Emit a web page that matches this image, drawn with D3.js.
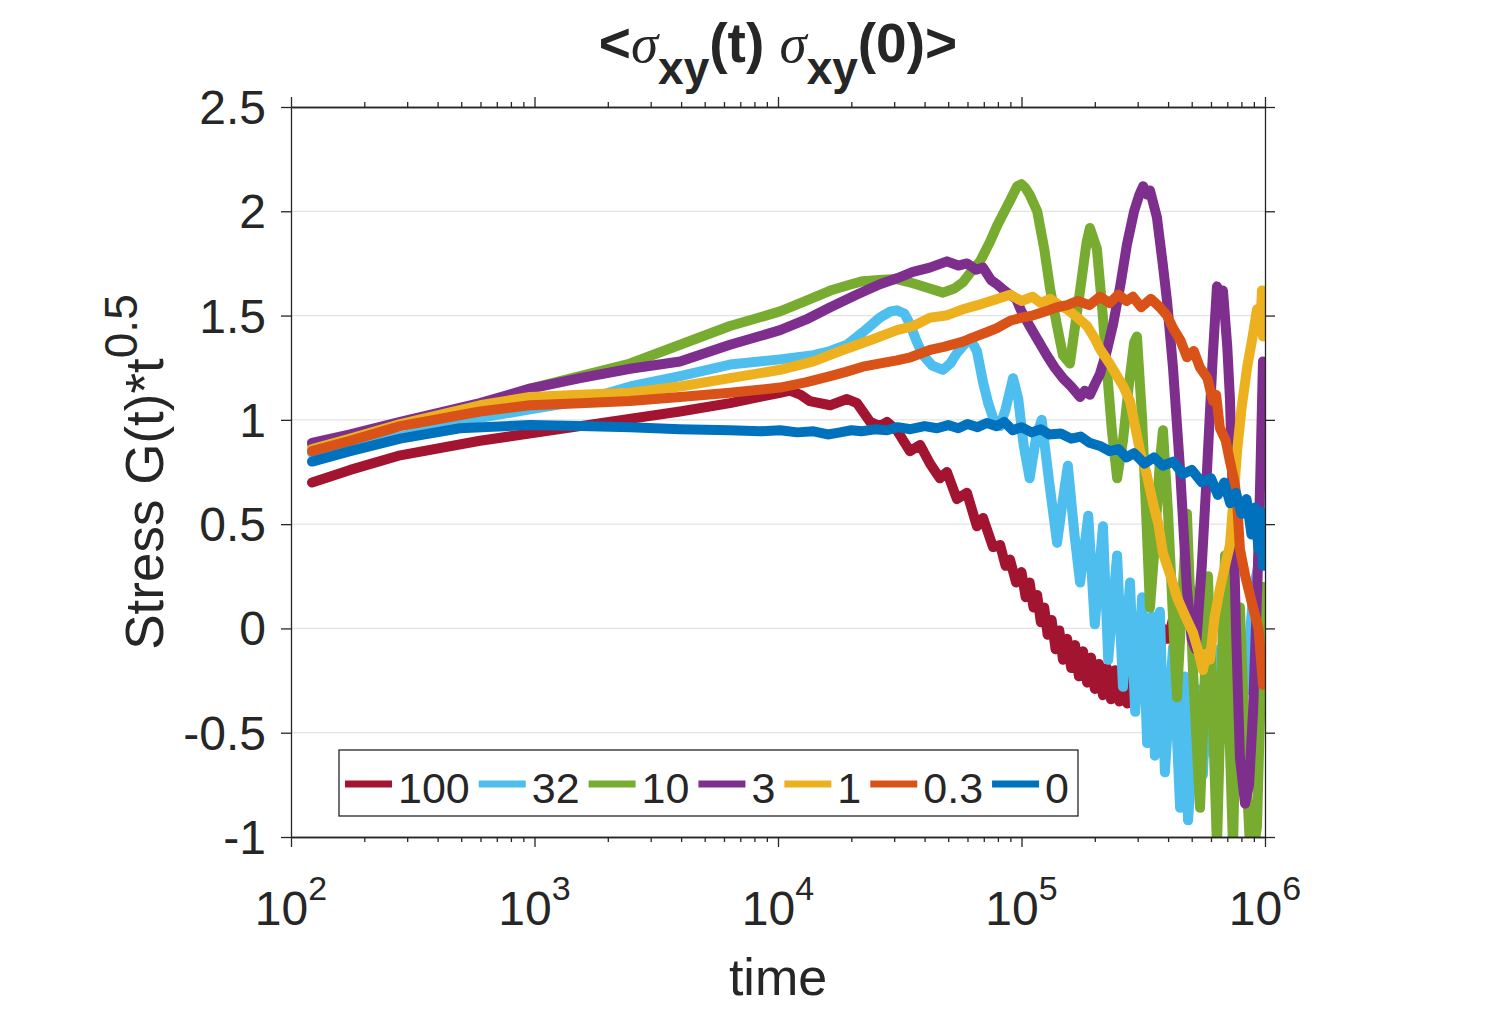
<!DOCTYPE html>
<html>
<head>
<meta charset="utf-8">
<script src="https://cdn.jsdelivr.net/npm/d3@7"></script>
<style>
  body { margin: 0; background: #fff; }
  text { font-family: "Liberation Sans", Arial, sans-serif; fill: #262626; }
</style>
</head>
<body>
<script>
// legend labels and line colours (MATLAB default order)
const labels = ["100", "32", "10", "3", "1", "0.3", "0"];
const colors = ["#A2142F", "#4DBEEE", "#77AC30", "#7E2F8E", "#EDB120", "#D95319", "#0072BD"];

const xTicks = [1e2, 1e3, 1e4, 1e5, 1e6];
const yTicks = [-1, -0.5, 0, 0.5, 1, 1.5, 2, 2.5];

// [time, G(t)*t^0.5]
const s100 = [[122,0.70],[175,0.76],[281,0.83],[597,0.90],[1540,0.97],[3960,1.04],[6350,1.08],[8430,1.11],[1.02e4,1.13],[1.12e4,1.14],[1.24e4,1.12],[1.35e4,1.09],[1.64e4,1.07],[1.92e4,1.10],[2.11e4,1.08],[2.39e4,0.99],[2.62e4,0.97],[2.80e4,0.99],[3.08e4,0.95],[3.48e4,0.85],[3.83e4,0.88],[4.21e4,0.79],[4.62e4,0.72],[4.94e4,0.75],[5.43e4,0.62],[5.97e4,0.65],[6.56e4,0.49],[6.95e4,0.53],[7.64e4,0.39],[8.17e4,0.40],[8.6e4,0.30],[8.97e4,0.33],[9.5e4,0.22],[1.0e5,0.27],[1.04e5,0.15],[1.08e5,0.22],[1.12e5,0.10],[1.16e5,0.16],[1.20e5,0.03],[1.24e5,0.10],[1.28e5,-0.03],[1.33e5,0.04],[1.38e5,-0.10],[1.43e5,-0.01],[1.48e5,-0.15],[1.54e5,-0.05],[1.60e5,-0.19],[1.66e5,-0.08],[1.72e5,-0.23],[1.79e5,-0.11],[1.86e5,-0.26],[1.93e5,-0.14],[2.0e5,-0.29],[2.08e5,-0.17],[2.16e5,-0.32],[2.24e5,-0.19],[2.33e5,-0.34],[2.42e5,-0.20],[2.52e5,-0.35],[2.62e5,-0.21],[2.72e5,-0.36],[2.82e5,-0.22],[2.9e5,-0.33],[3.0e5,-0.20],[3.2e5,-0.30],[3.4e5,-0.15],[3.6e5,-0.22],[3.8e5,0.0],[4.0e5,-0.05],[4.3e5,0.10],[4.9e5,0.20],[5.4e5,0.0]];

const s32 = [[122,0.84],[175,0.87],[281,0.92],[597,1.01],[959,1.05],[1540,1.09],[2470,1.16],[3960,1.21],[6350,1.265],[1.02e4,1.29],[1.4e4,1.31],[1.64e4,1.33],[1.92e4,1.36],[2.23e4,1.42],[2.62e4,1.49],[2.9e4,1.52],[3.08e4,1.525],[3.3e4,1.51],[3.48e4,1.46],[3.7e4,1.38],[3.94e4,1.31],[4.3e4,1.26],[4.76e4,1.24],[5.1e4,1.27],[5.43e4,1.32],[5.9e4,1.37],[6.15e4,1.39],[6.56e4,1.33],[6.95e4,1.18],[7.3e4,1.08],[7.64e4,1.01],[8.17e4,0.97],[8.6e4,1.05],[9.23e4,1.20],[9.7e4,1.10],[1.02e5,0.88],[1.08e5,0.72],[1.15e5,0.92],[1.21e5,1.0],[1.3e5,0.70],[1.40e5,0.41],[1.48e5,0.62],[1.55e5,0.78],[1.65e5,0.45],[1.74e5,0.22],[1.88e5,0.54],[2.00e5,0.02],[2.16e5,0.49],[2.27e5,-0.15],[2.47e5,0.35],[2.61e5,-0.28],[2.79e5,0.22],[2.93e5,-0.40],[3.13e5,0.15],[3.28e5,-0.55],[3.44e5,0.06],[3.53e5,-0.61],[3.70e5,0.08],[3.88e5,-0.69],[4.19e5,-0.09],[4.48e5,-0.86],[4.69e5,-0.23],[4.83e5,-0.92],[5.26e5,-0.29],[5.56e5,-0.70],[5.8e5,-0.20],[6.1e5,-0.60],[6.5e5,-0.10],[7.0e5,-0.50],[7.6e5,0.0],[8.3e5,-0.30],[9.0e5,0.20],[9.6e5,0.35],[9.81e5,0.62]];

const s10 = [[122,0.88],[175,0.92],[281,0.98],[597,1.07],[959,1.15],[1540,1.21],[2470,1.27],[3960,1.36],[6350,1.45],[1.02e4,1.52],[1.3e4,1.57],[1.64e4,1.62],[2.0e4,1.65],[2.23e4,1.665],[2.6e4,1.67],[3.08e4,1.675],[3.58e4,1.655],[4.2e4,1.63],[4.76e4,1.61],[5.3e4,1.63],[5.75e4,1.66],[6.2e4,1.71],[6.76e4,1.76],[7.4e4,1.85],[7.93e4,1.93],[8.6e4,2.01],[9.23e4,2.08],[9.6e4,2.12],[1.0e5,2.13],[1.04e5,2.11],[1.08e5,2.08],[1.16e5,2.00],[1.24e5,1.82],[1.31e5,1.63],[1.4e5,1.45],[1.48e5,1.31],[1.58e5,1.27],[1.66e5,1.45],[1.74e5,1.62],[1.85e5,1.85],[1.91e5,1.92],[2.04e5,1.82],[2.14e5,1.55],[2.24e5,1.25],[2.35e5,0.95],[2.47e5,0.72],[2.61e5,0.90],[2.75e5,1.15],[2.9e5,1.37],[2.98e5,1.40],[3.13e5,1.00],[3.25e5,0.55],[3.37e5,0.10],[3.5e5,0.35],[3.7e5,0.80],[3.81e5,0.95],[4.0e5,0.55],[4.19e5,0.05],[4.35e5,-0.33],[4.55e5,0.10],[4.78e5,0.55],[5.06e5,-0.20],[5.41e5,-0.86],[5.6e5,-0.40],[5.83e5,0.25],[6.1e5,-0.40],[6.35e5,-1.05],[6.6e5,-0.30],[6.85e5,0.35],[7.1e5,-0.40],[7.39e5,-1.05],[7.6e5,-0.40],[7.89e5,0.10],[8.3e5,-0.60],[8.68e5,-1.05],[9.0e5,-1.05],[9.27e5,-0.95],[9.6e5,-0.30],[9.81e5,0.20]];

const s3 = [[122,0.89],[175,0.93],[281,0.99],[597,1.08],[959,1.15],[1540,1.20],[2470,1.245],[3960,1.28],[6350,1.36],[1.02e4,1.43],[1.3e4,1.48],[1.64e4,1.54],[2.1e4,1.60],[2.62e4,1.65],[3.1e4,1.68],[3.58e4,1.71],[4.2e4,1.73],[4.94e4,1.76],[5.5e4,1.74],[5.97e4,1.75],[6.5e4,1.72],[6.95e4,1.73],[7.5e4,1.67],[7.93e4,1.65],[8.5e4,1.62],[8.97e4,1.60],[9.5e4,1.58],[1.0e5,1.52],[1.08e5,1.45],[1.17e5,1.38],[1.27e5,1.31],[1.37e5,1.25],[1.48e5,1.20],[1.6e5,1.16],[1.74e5,1.11],[1.82e5,1.14],[1.91e5,1.12],[2.0e5,1.17],[2.10e5,1.22],[2.24e5,1.33],[2.38e5,1.46],[2.55e5,1.65],[2.71e5,1.84],[2.9e5,2.00],[3.05e5,2.08],[3.16e5,2.12],[3.27e5,2.08],[3.37e5,2.10],[3.60e5,1.97],[3.8e5,1.75],[3.96e5,1.57],[4.19e5,1.25],[4.48e5,0.76],[4.78e5,0.19],[5.0e5,-0.05],[5.2e5,-0.10],[5.5e5,0.30],[5.78e5,0.76],[6.1e5,1.30],[6.35e5,1.64],[6.6e5,1.60],[6.72e5,1.62],[7.0e5,1.35],[7.18e5,1.10],[7.39e5,0.60],[7.6e5,0.0],[7.89e5,-0.62],[8.28e5,-0.84],[8.6e5,-0.75],[8.93e5,-0.40],[9.3e5,0.20],[9.54e5,0.67],[9.81e5,1.28]];

const s1 = [[122,0.86],[175,0.91],[281,0.98],[597,1.07],[959,1.11],[1540,1.12],[2470,1.13],[3960,1.16],[6350,1.20],[1.02e4,1.24],[1.4e4,1.28],[1.9e4,1.34],[2.5e4,1.39],[3.08e4,1.43],[3.6e4,1.45],[4.21e4,1.49],[4.9e4,1.50],[5.75e4,1.53],[6.6e4,1.55],[7.93e4,1.58],[8.97e4,1.60],[1.0e5,1.57],[1.11e5,1.59],[1.2e5,1.56],[1.31e5,1.58],[1.43e5,1.55],[1.54e5,1.53],[1.7e5,1.49],[1.86e5,1.45],[2.0e5,1.39],[2.10e5,1.34],[2.3e5,1.27],[2.47e5,1.21],[2.62e5,1.16],[2.79e5,1.09],[2.95e5,0.95],[3.07e5,0.85],[3.25e5,0.75],[3.47e5,0.60],[3.65e5,0.50],[3.81e5,0.36],[4.1e5,0.25],[4.35e5,0.15],[4.7e5,0.06],[5.06e5,-0.02],[5.3e5,-0.10],[5.56e5,-0.20],[5.75e5,-0.12],[5.94e5,-0.15],[6.2e5,0.05],[6.53e5,0.19],[6.85e5,0.30],[7.18e5,0.40],[7.4e5,0.60],[7.68e5,0.85],[8.0e5,1.05],[8.44e5,1.25],[8.9e5,1.40],[9.27e5,1.53],[9.6e5,1.50],[9.72e5,1.62],[9.81e5,1.40]];

const s03 = [[122,0.85],[175,0.90],[281,0.97],[597,1.04],[959,1.07],[1540,1.08],[2470,1.09],[3960,1.11],[6350,1.13],[1.02e4,1.155],[1.3e4,1.18],[1.64e4,1.21],[1.9e4,1.23],[2.23e4,1.255],[2.6e4,1.27],[3.08e4,1.285],[3.5e4,1.30],[4.21e4,1.335],[4.8e4,1.35],[5.75e4,1.375],[6.5e4,1.40],[7.2e4,1.42],[7.93e4,1.44],[8.97e4,1.475],[1.0e5,1.49],[1.11e5,1.50],[1.25e5,1.52],[1.4e5,1.54],[1.54e5,1.55],[1.7e5,1.57],[1.9e5,1.55],[2.1e5,1.59],[2.3e5,1.56],[2.5e5,1.60],[2.7e5,1.57],[2.87e5,1.59],[3.1e5,1.54],[3.4e5,1.58],[3.7e5,1.54],[3.96e5,1.50],[4.19e5,1.44],[4.5e5,1.38],[4.78e5,1.30],[5.1e5,1.33],[5.41e5,1.25],[5.8e5,1.20],[6.11e5,1.09],[6.3e5,1.12],[6.53e5,0.96],[6.9e5,0.90],[7.18e5,0.80],[7.5e5,0.70],[7.68e5,0.61],[7.89e5,0.38],[8.3e5,0.25],[8.93e5,0.10],[9.4e5,0.0],[9.81e5,-0.27]];

const s0 = [[122,0.80],[175,0.85],[281,0.91],[494,0.96],[959,0.975],[1540,0.97],[2470,0.965],[3960,0.955],[6350,0.95],[8430,0.945],[1.02e4,0.95],[1.2e4,0.94],[1.4e4,0.945],[1.6e4,0.93],[1.8e4,0.94],[2.0e4,0.95],[2.2e4,0.945],[2.5e4,0.955],[2.8e4,0.95],[3.1e4,0.965],[3.5e4,0.955],[4.0e4,0.97],[4.5e4,0.96],[5.0e4,0.975],[5.5e4,0.96],[6.0e4,0.98],[6.6e4,0.965],[7.2e4,0.985],[7.9e4,0.97],[8.5e4,0.99],[9.2e4,0.95],[1.0e5,0.965],[1.1e5,0.94],[1.2e5,0.955],[1.3e5,0.93],[1.45e5,0.935],[1.6e5,0.91],[1.75e5,0.92],[1.9e5,0.89],[2.1e5,0.875],[2.3e5,0.85],[2.5e5,0.86],[2.7e5,0.82],[2.9e5,0.84],[3.2e5,0.79],[3.5e5,0.82],[3.8e5,0.78],[4.2e5,0.80],[4.6e5,0.74],[5.0e5,0.76],[5.5e5,0.70],[6.0e5,0.72],[6.4e5,0.64],[6.8e5,0.70],[7.2e5,0.60],[7.6e5,0.65],[8.0e5,0.55],[8.4e5,0.62],[8.8e5,0.45],[9.1e5,0.58],[9.4e5,0.38],[9.6e5,0.56],[9.8e5,0.30]];

const seriesData = [s100, s32, s10, s3, s1, s03, s0];

const width = 1503;
const height = 1011;
const plot = {left: 291, right: 1265, top: 107, bottom: 837};

const svg = d3.select("body").append("svg")
    .attr("width", width)
    .attr("height", height);

const x = d3.scaleLog().domain([1e2, 1e6]).range([plot.left, plot.right]);
const y = d3.scaleLinear().domain([-1, 2.5]).range([plot.bottom, plot.top]);

// horizontal grid
svg.append("g")
    .selectAll("line")
    .data(yTicks.filter(v => v > -1 && v < 2.5))
    .enter().append("line")
    .attr("x1", plot.left).attr("x2", plot.right)
    .attr("y1", d => y(d)).attr("y2", d => y(d))
    .attr("stroke", "#e3e3e3")
    .attr("stroke-width", 1.3);

svg.append("clipPath").attr("id", "clip")
  .append("rect")
    .attr("x", plot.left).attr("y", plot.top)
    .attr("width", plot.right - plot.left)
    .attr("height", plot.bottom - plot.top);

const line = d3.line()
    .x(d => x(d[0]))
    .y(d => y(d[1]));

svg.append("g")
    .attr("clip-path", "url(#clip)")
    .selectAll("path")
    .data(seriesData)
    .enter().append("path")
    .attr("d", line)
    .attr("fill", "none")
    .attr("stroke", (d, i) => colors[i])
    .attr("stroke-width", 10)
    .attr("stroke-linejoin", "round")
    .attr("stroke-linecap", "round");

// axes, ticks pointing out
const minor = [];
for (let e = 2; e < 6; e++) for (let k = 2; k < 10; k++) minor.push(k * Math.pow(10, e));

function styleAxis(g) {
    g.selectAll("path, line").attr("stroke", "#262626").attr("stroke-width", 1.3);
    g.selectAll("text").remove();
}

svg.append("g").attr("transform", `translate(0,${plot.bottom})`)
    .call(d3.axisBottom(x).tickValues(minor).tickSize(5).tickSizeOuter(0)).call(styleAxis);
svg.append("g").attr("transform", `translate(0,${plot.bottom})`)
    .call(d3.axisBottom(x).tickValues(xTicks).tickSize(10).tickSizeOuter(0)).call(styleAxis);
svg.append("g").attr("transform", `translate(0,${plot.top})`)
    .call(d3.axisTop(x).tickValues(minor).tickSize(5).tickSizeOuter(0)).call(styleAxis);
svg.append("g").attr("transform", `translate(0,${plot.top})`)
    .call(d3.axisTop(x).tickValues(xTicks).tickSize(10).tickSizeOuter(0)).call(styleAxis);
svg.append("g").attr("transform", `translate(${plot.left},0)`)
    .call(d3.axisLeft(y).tickValues(yTicks).tickSize(10).tickSizeOuter(0)).call(styleAxis);
svg.append("g").attr("transform", `translate(${plot.right},0)`)
    .call(d3.axisRight(y).tickValues(yTicks).tickSize(10).tickSizeOuter(0)).call(styleAxis);

// y tick labels
svg.append("g")
    .selectAll("text")
    .data(yTicks)
    .enter().append("text")
    .attr("x", plot.left - 25)
    .attr("y", d => y(d) + 17)
    .attr("text-anchor", "end")
    .attr("font-size", 48)
    .text(d => String(d));

// x tick labels 10^n
const xl = svg.append("g")
    .selectAll("text")
    .data(xTicks)
    .enter().append("text")
    .attr("x", d => x(d))
    .attr("y", 925)
    .attr("text-anchor", "middle")
    .attr("font-size", 48);
xl.append("tspan").text("10");
xl.append("tspan").attr("dy", -25).attr("font-size", 34)
    .text(d => String(Math.round(Math.log10(d))));

// axis labels
svg.append("text")
    .attr("x", (plot.left + plot.right) / 2)
    .attr("y", 995)
    .attr("text-anchor", "middle")
    .attr("font-size", 52)
    .text("time");

const yl = svg.append("text")
    .attr("transform", `translate(163,${(plot.top + plot.bottom) / 2}) rotate(-90)`)
    .attr("text-anchor", "middle")
    .attr("font-size", 53);
yl.append("tspan").text("Stress G(t)*t");
yl.append("tspan").attr("dy", -26).attr("font-size", 46).text("0.5");

// title
const title = svg.append("text")
    .attr("x", (plot.left + plot.right) / 2)
    .attr("y", 62)
    .attr("text-anchor", "middle")
    .attr("font-size", 55)
    .attr("font-weight", "bold")
    .attr("fill", "#000");
const sig = {"font-family": "'Liberation Serif', serif", "font-style": "italic", "font-weight": "normal"};
function addT(txt, opts) {
    const t = title.append("tspan").text(txt);
    Object.entries(opts || {}).forEach(([k, v]) => t.attr(k, v));
    return t;
}
addT("<");
addT("σ", sig);
addT("xy", {dy: 22, "font-size": 46});
addT("(t) ", {dy: -22});
addT("σ", sig);
addT("xy", {dy: 22, "font-size": 46});
addT("(0)>", {dy: -22});

// legend
const legend = svg.append("g");
const legY = 784;
let lx = 345;
labels.forEach((lab, i) => {
    legend.append("line")
        .attr("x1", lx).attr("x2", lx + 47)
        .attr("y1", legY).attr("y2", legY)
        .attr("stroke", colors[i]).attr("stroke-width", 7);
    const t = legend.append("text")
        .attr("x", lx + 53)
        .attr("y", legY + 19)
        .attr("font-size", 43)
        .attr("fill", "#000")
        .text(lab);
    lx += 53 + t.node().getComputedTextLength() + 9;
});
legend.insert("rect", ":first-child")
    .attr("x", 339).attr("y", 750)
    .attr("width", lx - 339)
    .attr("height", 66)
    .attr("fill", "#fff")
    .attr("stroke", "#262626")
    .attr("stroke-width", 1.3);
</script>
</body>
</html>
